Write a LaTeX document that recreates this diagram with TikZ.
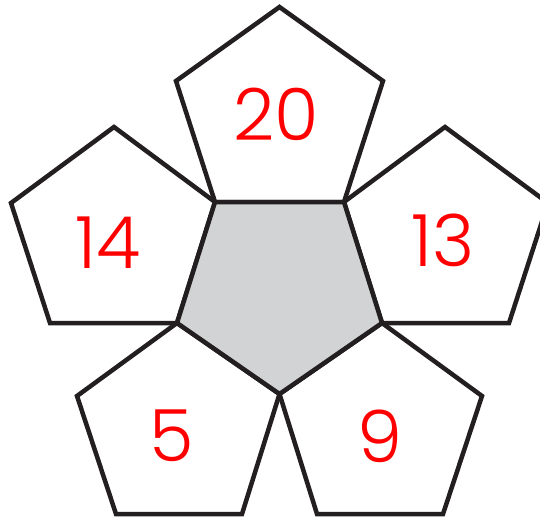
\documentclass[tikz,border=0pt]{standalone}
\usepackage{fontspec}
\setmainfont{Poppins}[UprightFont=* Light]
\definecolor{edge}{HTML}{231F20}
\definecolor{core}{HTML}{D1D3D4}
\definecolor{numred}{HTML}{FF0000}
\begin{document}
\begin{tikzpicture}[x=1pt,y=-1pt,
  pent/.style={draw=edge,line width=4.5pt,line join=miter,fill=white},
  corepent/.style={draw=edge,line width=4.5pt,line join=miter,fill=core},
  num/.style={text=numred,font=\fontsize{72}{72}\selectfont,inner sep=0pt}]
\useasboundingbox (0,0) rectangle (540,516);
\coordinate (TL) at (215,202);
\coordinate (TR) at (344,202);
\coordinate (R) at (382,323);
\coordinate (B) at (279.5,394);
\coordinate (L) at (177,323);
\begin{scope}
\clip (0,0) rectangle (540,516);
% top pentagon
\draw[pent] (TL) -- (176,81) -- (279.5,7) -- (383,81) -- (TR) -- cycle;
% left pentagon
\draw[pent] (TL) -- (114,127) -- (11,203) -- (50,323) -- (L) -- cycle;
% right pentagon
\draw[pent] (TR) -- (445,127) -- (548,203) -- (509,323) -- (R) -- cycle;
% bottom-left pentagon
\draw[pent] (L) -- (77,396) -- (116,514) -- (242,514) -- (B) -- cycle;
% bottom-right pentagon
\draw[pent] (R) -- (482,396) -- (443,514) -- (317,514) -- (B) -- cycle;
% central pentagon
\draw[corepent] (TL) -- (TR) -- (R) -- (B) -- (L) -- cycle;
\end{scope}
\node[num] (n20) at (276,114) {20};
\node[num] (n14) at (108,243) {14};
\node[num] (n13) at (443,240) {13};
\node[num] (n5) at (172,436) {5};
\node[num] (n9) at (380,436) {9};
\end{tikzpicture}
\end{document}
